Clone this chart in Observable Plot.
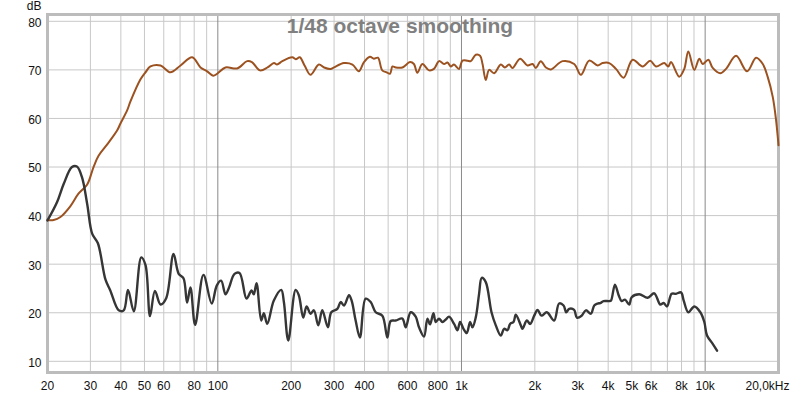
<!DOCTYPE html>
<html>
<head>
<meta charset="utf-8">
<script src="https://cdn.jsdelivr.net/npm/d3@7"></script>
<script src="https://cdn.jsdelivr.net/npm/@observablehq/plot@0.6"></script>
<style>
  html, body { margin: 0; padding: 0; background: #fff; }
  #chart { width: 800px; height: 395px; }
</style>
</head>
<body>
<div id="chart"></div>
<script>
const title = "1/48 octave smoothing";
const yUnit = "dB";
const xEndLabel = "20,0kHz";

const freqOrange = [20,21.2,22.6,24.8,26.8,29.1,30.9,32.4,35.1,38.6,39.8,42.4,43.8,48.1,50.5,52.9,58.2,63.9,70.3,78.5,84.9,90.4,95.7,99.4,107.5,120,132,138,149,160,170,175,184,202,209,217,227,240,260,273,290,300,329,357,379,398,421,437,454,473,493,509,521,537,572,615,638,659,691,736,771,809,848,876,904,932,977,1009,1058,1092,1145,1192,1220,1258,1298,1361,1450,1506,1568,1620,1740,1866,1958,2019,2116,2220,2328,2599,2900,3090,3343,3620,3795,4040,4304,4628,5040,5540,5952,6282,6796,7056,7240,7830,8210,8528,9026,9464,9774,10304,10742,11542,12182,13396,14860,16182,17240,18072,18950,19550,20000];
const dbOrange = [39.1,39.1,39.7,41.9,44.5,46.4,50.0,52.3,54.6,57.5,58.9,61.6,63.5,68.0,69.5,70.7,70.9,69.5,70.9,72.6,70.5,69.7,68.8,69.2,70.5,70.3,71.8,71.6,69.9,70.5,71.4,71.1,71.8,72.6,72.2,72.6,70.9,69.0,71.1,70.5,70.2,70.5,71.4,71.1,69.7,71.6,72.7,72.3,72.5,69.9,69.5,69.2,70.7,70.5,70.5,71.6,71.2,69.4,71.2,69.9,70.2,71.8,71.2,71.5,70.7,71.1,70.2,71.9,71.9,71.8,73.1,72.9,71.2,67.9,70.0,69.3,71.1,70.5,71.1,70.4,72.3,70.9,71.2,70.4,71.8,70.5,70.1,71.8,71.2,69.0,71.9,70.9,71.4,71.4,70.2,68.4,72.1,70.7,71.9,70.7,71.4,70.7,71.6,68.6,70.2,73.8,70.0,72.3,71.2,72.1,70.4,69.3,70.2,72.9,69.7,72.5,71.2,68.5,64.4,59.6,54.5];

const freqGray = [20,21.9,23.3,25.2,26.4,27.7,29.1,30.5,32.2,34.6,36.2,39.2,41.1,42.8,45.2,48.5,50.5,52.7,55.2,58.2,61.4,65.8,69.1,72.3,74.8,77.2,80.7,87.3,94.4,99.0,103.2,107.5,111,117.1,122.8,131.2,137.5,140.5,144.2,150.7,154.5,159.5,169.8,182.1,186.7,194.6,208.6,215,224.2,231.4,240.4,248,258.4,268.4,283,292.2,309.4,319.2,329.4,345.4,354.2,367.8,383,404.2,424,444.6,473.4,496.4,512.2,537,572.2,590.2,618.8,648.8,669.4,702,724.8,743,767.2,784.2,808.8,835.4,862,889.2,932.4,962.8,986.8,1019,1051,1085,1109,1145,1181,1211,1258,1328,1383,1450,1496,1545,1583,1635,1671,1752,1780,1854,1914,1988,2052,2130,2240,2400,2516,2624,2690,2766,2900,2976,3112,3240,3398,3506,3620,3710,3830,4040,4106,4264,4416,4542,4688,4882,4994,5364,5808,6182,6544,6758,6972,7288,7592,7960,8166,8528,9026,9554,9922,10178,10742,11188];
const dbGray = [39.0,42.8,46.5,50.0,50.1,47.9,42.4,36.3,34.3,26.8,24.6,20.5,20.5,24.7,20.3,31.4,29.8,19.3,24.5,21.7,23.0,32.1,28.0,27.1,22.1,25.2,17.5,27.8,21.9,25.6,26.6,23.8,25.1,28.0,28.2,22.9,24.6,23.8,26.1,18.4,19.9,17.7,22.5,24.7,22.2,14.3,24.7,23.6,19.0,21.3,19.8,20.5,17.4,20.5,17.0,20.1,20.8,22.2,21.5,23.6,22.5,18.4,14.9,22.9,22.2,20.1,19.4,14.9,18.3,18.4,18.8,17.0,20.1,19.2,17.0,15.1,18.8,17.6,19.9,18.1,18.8,18.1,18.6,19.2,17.7,16.4,18.1,16.7,15.8,18.1,17.0,19.1,23.9,27.2,26.3,20.1,17.4,15.3,16.7,16.4,17.7,18.1,19.6,17.4,16.7,18.4,17.7,19.4,20.6,19.4,20.1,18.4,21.9,21.5,20.1,20.8,20.6,19.0,19.4,20.5,19.8,21.5,21.9,22.0,22.4,22.4,22.5,25.8,23.6,22.4,22.7,21.7,23.2,23.8,23.1,24.0,21.7,22.0,21.3,23.9,23.9,24.2,22.5,20.1,21.3,20.1,18.1,15.3,13.6,12.2];

const yTicks = [10,20,30,40,50,60,70,80];
const xTicks = [20,30,40,50,60,80,100,200,300,400,600,800,1000,2000,3000,4000,5000,6000,8000,10000];
const xGrid = [20,30,40,50,60,70,80,90,200,300,400,500,600,700,800,900,2000,3000,4000,5000,6000,7000,8000,9000,20000];
const xDecades = [100,1000,10000];

const orange = freqOrange.map((f, i) => ({f, db: dbOrange[i]}));
const gray = freqGray.map((f, i) => ({f, db: dbGray[i]}));

const fmt = d => d >= 1000 ? (d / 1000) + "k" : String(d);

const chart = Plot.plot({
  width: 800,
  height: 395,
  marginLeft: 47,
  marginRight: 22,
  marginTop: 14,
  marginBottom: 23,
  style: {fontFamily: "'Liberation Sans', Arial, sans-serif", fontSize: "12px", color: "#111", background: "#fff"},
  x: {type: "log", domain: [20, 20000], axis: null, label: null},
  y: {domain: [7.7, 81.4], axis: null, label: null},
  marks: [
    Plot.ruleX(xGrid, {stroke: "#c8c8c8", strokeWidth: 1}),
    Plot.ruleY(yTicks, {stroke: "#c8c8c8", strokeWidth: 1}),
    Plot.ruleX(xDecades, {stroke: "#8a8a8a", strokeWidth: 1}),
    Plot.text([title], {frameAnchor: "top", dx: -13, dy: 12, lineAnchor: "middle", fontSize: 21, fontWeight: "bold", fill: "#808080"}),
    Plot.frame({stroke: "#bcbcbc", strokeWidth: 3}),
    Plot.text(yTicks, {y: d => d, text: d => String(d), frameAnchor: "left", dx: -6, dy: 1.5, textAnchor: "end", lineAnchor: "middle", fill: "#111", fontSize: 12}),
    Plot.text(xTicks, {x: d => d, text: fmt, frameAnchor: "bottom", dy: 14, lineAnchor: "middle", fill: "#111", fontSize: 12}),
    Plot.text([20000], {x: d => d, text: () => xEndLabel, frameAnchor: "bottom", dy: 14, dx: 11, textAnchor: "end", lineAnchor: "middle", fill: "#111", fontSize: 12}),
    Plot.text([yUnit], {frameAnchor: "top-left", dx: -6, dy: -8, textAnchor: "end", lineAnchor: "middle", fill: "#111", fontSize: 12}),
    Plot.line(orange, {x: "f", y: "db", stroke: "#9c5220", strokeWidth: 2, curve: "catmull-rom"}),
    Plot.line(gray, {x: "f", y: "db", stroke: "#363636", strokeWidth: 2.4, curve: "catmull-rom"})
  ]
});
document.getElementById("chart").appendChild(chart);
</script>
</body>
</html>
